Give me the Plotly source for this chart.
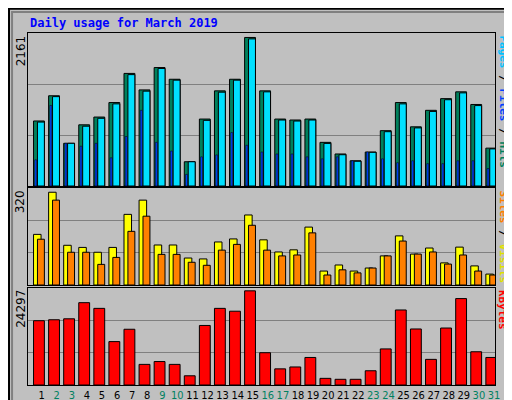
import plotly.graph_objects as go

days = list(range(1, 32))
hits = [946,1313,621,890,1003,1214,1638,1398,1723,1553,353,974,1384,1553,2161,1384,974,960,974,635,466,367,494,805,1214,861,1101,1271,1370,1186,551]
files = [930,1300,621,870,985,1195,1620,1380,1710,1540,353,955,1365,1540,2140,1370,960,945,960,620,455,360,490,790,1195,845,1085,1255,1355,1170,540]
pages = [381,1172,621,579,621,410,720,1101,635,508,169,424,452,777,593,494,466,466,424,395,424,367,494,395,339,367,325,325,367,367,254]
visits = [167,306,131,124,108,124,233,280,132,132,89,86,142,152,231,149,109,116,191,46,66,46,56,96,162,102,122,73,125,63,36]
sites = [151,280,108,108,68,91,177,227,101,101,75,65,115,134,197,115,96,99,172,33,50,40,56,96,145,102,109,69,99,46,33]
kbytes = [16587,16832,17077,21242,19772,11197,14382,5317,6052,5317,2377,15362,19772,19037,24297,8330,4165,4655,7105,1715,1470,1470,3675,9310,19355,14455,6615,14700,22295,8575,7105]
max_pages, max_visits, max_kb = 2161, 320, 24297
weekend = {2,3,9,10,16,17,23,24,30,31}
ticktext = [f"<span style='color:#008060'>{d}</span>" if d in weekend else str(d) for d in days]

fig = go.Figure()
ln = dict(color="black", width=1)
fig.add_bar(x=days, y=hits, width=0.72, offset=-0.12, marker=dict(color="#00805C", line=ln), xaxis="x", yaxis="y")
fig.add_bar(x=days, y=files, width=0.46, offset=0.14, marker=dict(color="#00E0FF", line=ln), xaxis="x", yaxis="y")
fig.add_bar(x=days, y=pages, width=0.13, offset=-0.04, marker=dict(color="#0040FF", line=dict(color="black", width=0.5)), xaxis="x", yaxis="y")
fig.add_bar(x=days, y=visits, width=0.5, offset=-0.12, marker=dict(color="#FFFF00", line=ln), xaxis="x2", yaxis="y2")
fig.add_bar(x=days, y=sites, width=0.46, offset=0.14, marker=dict(color="#FF8000", line=ln), xaxis="x2", yaxis="y2")
fig.add_bar(x=days, y=kbytes, width=0.72, offset=-0.12, marker=dict(color="#FF0000", line=ln), xaxis="x3", yaxis="y3")

xdom = [20/512, 492/512]
common_x = dict(range=[0.5, 31.5], domain=xdom, showgrid=False, zeroline=False, showline=True, linecolor="black", mirror=True, fixedrange=True)
fig.update_layout(
    width=512, height=400, margin=dict(l=0, r=0, t=0, b=0),
    paper_bgcolor="#C0C0C0", plot_bgcolor="#C0C0C0", showlegend=False, barmode="overlay",
    font=dict(family="DejaVu Sans", size=12, color="black"),
    xaxis=dict(**common_x, anchor="y", showticklabels=False),
    xaxis2=dict(**common_x, anchor="y2", showticklabels=False),
    xaxis3=dict(**common_x, anchor="y3", tickmode="array", tickvals=[d + 0.42 for d in days], ticktext=ticktext, ticks="", tickangle=0, tickfont=dict(size=11, family="DejaVu Sans Condensed")),
    yaxis=dict(domain=[0.555, 0.9375], range=[0, max_pages*1.03], tickvals=[max_pages*1.03/3, 2*max_pages*1.03/3], showticklabels=False, gridcolor="#808080", zeroline=False, showline=True, linecolor="black", mirror=True),
    yaxis2=dict(domain=[0.3075, 0.55], range=[0, max_visits], tickvals=[max_visits/3, 2*max_visits/3], showticklabels=False, gridcolor="#808080", zeroline=False, showline=True, linecolor="black", mirror=True),
    yaxis3=dict(domain=[0.0575, 0.3], range=[0, max_kb*1.03], tickvals=[max_kb*1.03/3, 2*max_kb*1.03/3], showticklabels=False, gridcolor="#808080", zeroline=False, showline=True, linecolor="black", mirror=True),
)
mono = "DejaVu Sans Mono"
anns = [
    dict(x=20/512, y=1-15/400, text="<b>Daily usage for March 2019</b>", xanchor="left", yanchor="middle", font=dict(family=mono, size=12, color="#0000FF")),
    dict(x=13/512, y=0.9375, text=str(max_pages), textangle=-90, xanchor="center", yanchor="top"),
    dict(x=13/512, y=0.55, text=str(max_visits), textangle=-90, xanchor="center", yanchor="top"),
    dict(x=13/512, y=0.3, text=str(max_kb), textangle=-90, xanchor="center", yanchor="top"),
    dict(x=500/512, y=0.9375, text="<b><span style='color:#00C0FF'>Pages</span> / <span style='color:#0040FF'>Files</span> / <span style='color:#00805C'>Hits</span></b>", textangle=90, xanchor="center", yanchor="top", font=dict(family=mono, size=11)),
    dict(x=500/512, y=0.55, text="<b><span style='color:#FF8000'>Sites</span> / <span style='color:#E0E000'>Visits</span></b>", textangle=90, xanchor="center", yanchor="top", font=dict(family=mono, size=11)),
    dict(x=500/512, y=0.3, text="<b><span style='color:#FF0000'>KBytes</span></b>", textangle=90, xanchor="center", yanchor="top", font=dict(family=mono, size=11)),
]
for a in anns:
    a.setdefault("showarrow", False)
    a.setdefault("xref", "paper"); a.setdefault("yref", "paper")
fig.update_layout(annotations=anns)
fig.add_shape(type="rect", xref="paper", yref="paper", x0=0.002, y0=0.002, x1=0.998, y1=0.998, line=dict(color="black", width=2))
fig.add_shape(type="rect", xref="paper", yref="paper", x0=0.008, y0=0.01, x1=0.992, y1=0.99, line=dict(color="#808080", width=2))
fig.write_html("out.html")
